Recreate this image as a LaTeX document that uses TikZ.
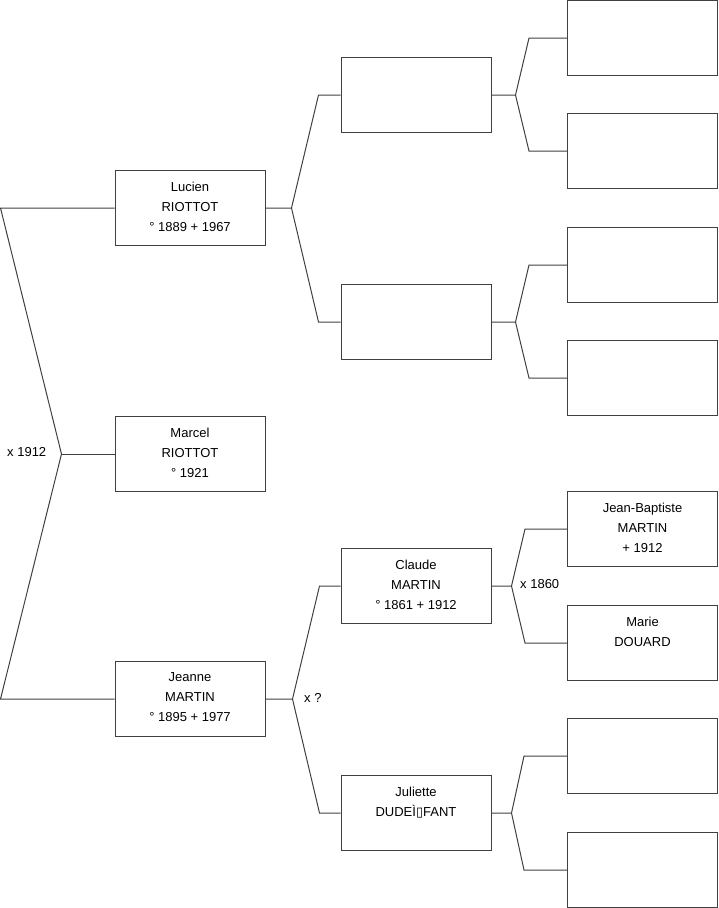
\documentclass[tikz,border=0pt]{standalone}
\usepackage{fontspec}
\setmainfont{Liberation Sans}
\newfontfamily\glyphfont{DejaVu Sans}
\usetikzlibrary{positioning}

\begin{document}
\begin{tikzpicture}[
  x=1pt, y=-1pt,
  box/.style={draw=black!75, line width=1pt, minimum width=150pt,
              minimum height=75pt, inner sep=0pt},
  txt/.style={align=center, inner sep=0pt, font=\fontsize{13}{20}\selectfont},
  wed/.style={inner sep=0pt, anchor=base west, font=\fontsize{13}{20}\selectfont},
  link/.style={draw=black!75, line width=1pt},
]
\useasboundingbox (0,0) rectangle (719,908);

%% --- Generation 1 ---
\node[box] (lucien) at (190,208) {};
\node[box] (marcel) at (190,454) {};
\node[box] (jeanne) at (190,699) {};

\node[txt, below=11.5pt of lucien.north] (lucien-t) {Lucien\\RIOTTOT\\° 1889 + 1967};
\node[txt, below=11.5pt of marcel.north] (marcel-t) {Marcel\\RIOTTOT\\° 1921};
\node[txt, below=11.5pt of jeanne.north] (jeanne-t) {Jeanne\\MARTIN\\° 1895 + 1977};

%% --- Generation 2 ---
\node[box] (pa1) at (416,95) {};
\node[box] (pa2) at (416,322) {};
\node[box] (claude) at (416,586) {};
\node[box] (juliette) at (416,813) {};

\node[txt, below=11.5pt of claude.north] (claude-t) {Claude\\MARTIN\\° 1861 + 1912};
\node[txt, below=11.5pt of juliette.north] (juliette-t) {Juliette\\DUDEÌ{\glyphfont ▯}FANT};

%% --- Generation 3 ---
\node[box] (gp1) at (642.5,38) {};
\node[box] (gp2) at (642.5,151) {};
\node[box] (gp3) at (642.5,265) {};
\node[box] (gp4) at (642.5,378) {};
\node[box] (jbapt) at (642.5,529) {};
\node[box] (marie) at (642.5,643) {};
\node[box] (gp7) at (642.5,756) {};
\node[box] (gp8) at (642.5,870) {};

\node[txt, below=11.5pt of jbapt.north] (jbapt-t) {Jean-Baptiste\\MARTIN\\+ 1912};
\node[txt, below=11.5pt of marie.north] (marie-t) {Marie\\DOUARD};

%% --- Couple bracket on the left ---
\coordinate (edge) at (0.5,0);
\coordinate[left=53pt of marcel.west] (f0);
\draw[link] (marcel.west) -- (f0);
\draw[link] (lucien.west) -- (lucien.west -| edge) -- (f0)
  -- (jeanne.west -| edge) -- (jeanne.west);
\node[wed] (m1912) at (7,456) {x 1912};

%% --- Forks to parents ---
\draw[link] (lucien.east) -- ++(26,0) coordinate (f1) -- ([xshift=-22pt]pa1.west) -- (pa1.west);
\draw[link] (f1) -- ([xshift=-22pt]pa2.west) -- (pa2.west);

\draw[link] (jeanne.east) -- ++(27,0) coordinate (f2) -- ([xshift=-21pt]claude.west) -- (claude.west);
\draw[link] (f2) -- ([xshift=-21pt]juliette.west) -- (juliette.west);
\node[wed] (mq) at (304,702) {x ?};

%% --- Forks to grandparents ---
\draw[link] (pa1.east) -- ++(24,0) coordinate (f3) -- ([xshift=-38pt]gp1.west) -- (gp1.west);
\draw[link] (f3) -- ([xshift=-38pt]gp2.west) -- (gp2.west);

\draw[link] (pa2.east) -- ++(24,0) coordinate (f4) -- ([xshift=-38pt]gp3.west) -- (gp3.west);
\draw[link] (f4) -- ([xshift=-38pt]gp4.west) -- (gp4.west);

\draw[link] (claude.east) -- ++(20,0) coordinate (f5) -- ([xshift=-42pt]jbapt.west) -- (jbapt.west);
\draw[link] (f5) -- ([xshift=-42pt]marie.west) -- (marie.west);
\node[wed] (m1860) at (520,588) {x 1860};

\draw[link] (juliette.east) -- ++(20,0) coordinate (f6) -- ([xshift=-43pt]gp7.west) -- (gp7.west);
\draw[link] (f6) -- ([xshift=-43pt]gp8.west) -- (gp8.west);

\end{tikzpicture}
\end{document}
